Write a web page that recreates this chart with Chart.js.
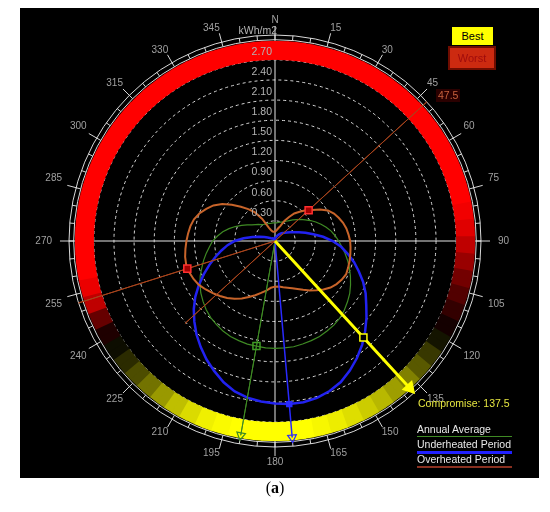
<!DOCTYPE html>
<html>
<head>
<meta charset="utf-8">
<title>Optimum orientation</title>
<script src="https://cdn.jsdelivr.net/npm/chart.js@4.4.1/dist/chart.umd.min.js"></script>
<style>
  body { margin: 0; background: #fff; }
  #wrap { position: relative; width: 550px; height: 512px; overflow: hidden; font-family: "Liberation Sans", Arial, sans-serif; }
  #panel { position: absolute; left: 20px; top: 8px; width: 519px; height: 470px; background: #000; }
  #chart { position: absolute; left: 0; top: 0; }
  .tag { position: absolute; font-size: 10.5px; line-height: 13px; white-space: nowrap; }
  .box { position: absolute; font-size: 11px; text-align: center; box-sizing: border-box; }
  #best { left: 452px; top: 27px; width: 41px; height: 18px; line-height: 18px; background: #ffff00; color: #000; }
  #worst { left: 448px; top: 46px; width: 48px; height: 24px; line-height: 20px; background: #cc2a10; color: #a00c0c; border: 2px solid #6e0c00; }
  #worstTag { left: 436px; top: 89px; color: #c8603c; background: #2a0000; padding: 0 2px; }
  #compromise { left: 418px; top: 397px; color: #e6e640; }
  .leg { left: 417px; width: 95px; color: #e8e8e8; }
  #cap { position: absolute; left: 0; width: 550px; top: 479px; text-align: center; font: 16px "Liberation Serif", "Times New Roman", serif; }
</style>
</head>
<body>
<div id="wrap">
  <div id="panel"></div>
  <canvas id="chart" width="550" height="512"></canvas>
  <div id="best" class="box">Best</div>
  <div id="worst" class="box">Worst</div>
  <div id="worstTag" class="tag"></div>
  <div id="compromise" class="tag"></div>
  <div id="legend"></div>
  <div id="cap">(<b>a</b>)</div>
</div>
<script>
// bearings every 2.5 degrees, clockwise from north
const angles = Array.from({ length: 144 }, (_, i) => i * 2.5);
const ringTicks = [0, 0.3, 0.6, 0.9, 1.2, 1.5, 1.8, 2.1, 2.4, 2.7, 3.0, 3.07];
const unitLabel = 'kWh/m2';
const seriesNames = ['Annual Average', 'Underheated Period', 'Overheated Period'];
const compromiseAngle = 137.5;
const worstAngle = 47.5;

// incident radiation, read every 5 degrees starting at north
const overheated = [
  0.14, 0.15, 0.17, 0.20, 0.24, 0.33, 0.41, 0.50, 0.57, 0.65,
  0.72, 0.82, 0.91, 0.97, 1.01, 1.05, 1.08, 1.10, 1.12, 1.13,
  1.14, 1.15, 1.16, 1.17, 1.15, 1.12, 1.08, 1.02, 0.96, 0.90,
  0.84, 0.79, 0.75, 0.72, 0.70, 0.68, 0.68, 0.70, 0.75, 0.80,
  0.86, 0.92, 0.99, 1.05, 1.11, 1.16, 1.21, 1.26, 1.31, 1.34,
  1.36, 1.37, 1.36, 1.34, 1.32, 1.30, 1.28, 1.25, 1.20, 1.13,
  1.06, 0.96, 0.84, 0.72, 0.62, 0.52, 0.38, 0.22, 0.17, 0.15,
  0.14, 0.14
];
const underheated = [
  0.03, 0.04, 0.05, 0.06, 0.07, 0.09, 0.11, 0.13, 0.15, 0.17,
  0.19, 0.22, 0.26, 0.31, 0.38, 0.47, 0.58, 0.72, 0.86, 0.99,
  1.10, 1.22, 1.33, 1.45, 1.56, 1.66, 1.78, 1.90, 2.02, 2.13,
  2.23, 2.32, 2.38, 2.42, 2.44, 2.44, 2.42, 2.40, 2.37, 2.32,
  2.24, 2.14, 2.04, 1.93, 1.82, 1.70, 1.58, 1.45, 1.31, 1.17,
  1.04, 0.92, 0.81, 0.71, 0.60, 0.47, 0.34, 0.24, 0.17, 0.12,
  0.09, 0.07, 0.06, 0.05, 0.05, 0.04, 0.04, 0.04, 0.03, 0.03,
  0.03, 0.03
];
const annualAverage = [
  0.27, 0.27, 0.28, 0.29, 0.30, 0.32, 0.34, 0.37, 0.41, 0.45,
  0.50, 0.55, 0.61, 0.67, 0.73, 0.79, 0.85, 0.90, 0.95, 1.00,
  1.06, 1.12, 1.18, 1.24, 1.30, 1.36, 1.41, 1.46, 1.50, 1.53,
  1.55, 1.57, 1.58, 1.59, 1.60, 1.60, 1.60, 1.60, 1.59, 1.59,
  1.58, 1.57, 1.55, 1.52, 1.49, 1.45, 1.40, 1.35, 1.29, 1.23,
  1.16, 1.10, 1.04, 0.98, 0.93, 0.86, 0.79, 0.71, 0.63, 0.55,
  0.48, 0.42, 0.38, 0.35, 0.32, 0.30, 0.29, 0.28, 0.28, 0.27,
  0.27, 0.27
];
// outer band shading every 5 degrees: 1 = worst (red), -1 = best (yellow)
const bandRating = [
  1, 1, 1, 1, 1, 1, 1, 1, 1, 1,
  1, 1, 1, 1, 1, 1, 0.95, 0.88, 0.75, 0.6,
  0.45, 0.32, 0.2, 0.08, -0.08, -0.22, -0.35, -0.5, -0.62, -0.72,
  -0.8, -0.87, -0.93, -0.97, -1, -1, -1, -1, -1, -0.98,
  -0.94, -0.86, -0.75, -0.6, -0.45, -0.3, -0.17, -0.05, 0.12, 0.4,
  0.75, 0.92, 1, 1, 1, 1, 1, 1, 1, 1,
  1, 1, 1, 1, 1, 1, 1, 1, 1, 1,
  1, 1
];

// direction lines: bearing, length behind the centre, length ahead
const dirAngles = [compromiseAngle, worstAngle, 252.5, 175, 190];
const dirTail = [0, 1.82, 0, 0, 0];
const dirHead = [2.97, 3.07, 3.07, 2.94, 2.94];
const markerAngles = [worstAngle, 252.5, compromiseAngle, 190, 175];
const markerValues = [0.68, 1.37, 1.95, 1.59, 2.44];

const dirStyle = [
  { color: '#ffff00', width: 3, arrow: 7, fill: '#ffff00' },
  { color: '#a8441c', width: 1, arrow: 0, fill: 'transparent' },
  { color: '#a8441c', width: 1, arrow: 0, fill: 'transparent' },
  { color: '#2a2aff', width: 1.5, arrow: 5, fill: 'transparent' },
  { color: '#3f8a24', width: 1, arrow: 5, fill: 'transparent' }
];
const markerStroke = ['#ff3030', '#ff3030', '#ffff00', '#3f9a24', '#2a2aff'];
const markerFill = ['#a00000', '#a00000', '#000000', 'transparent', '#2a2aff'];
const markerSize = [5, 5, 5, 5, 3.5];
const FONT = '"Liberation Sans", Arial, sans-serif';

const every5 = arr => arr.flatMap(v => [v, null]);

function bandColor(v) {
  const c = Math.round(255 * Math.abs(v));
  return v >= 0 ? `rgb(${c},0,0)` : `rgb(${c},${c},0)`;
}

function curve(label, values, color, width) {
  return {
    label, data: every5(values), borderColor: color, borderWidth: width,
    spanGaps: true, fill: false, pointRadius: 0, order: 5
  };
}

function directionSets() {
  return dirAngles.map((a, k) => {
    const head = a / 2.5;
    const tail = (head + 72) % 144;
    const data = angles.map(() => null);
    data[head] = dirHead[k];
    data[tail] = dirTail[k];
    const st = dirStyle[k];
    return {
      label: 'dir' + k, data, borderColor: st.color, borderWidth: st.width,
      spanGaps: true, fill: false, order: 3,
      pointStyle: 'triangle', rotation: a,
      pointRadius: c => (c.dataIndex === head ? st.arrow : 0),
      pointBackgroundColor: st.fill, pointBorderColor: st.color, pointBorderWidth: 1.2
    };
  });
}

function markerSet() {
  const data = angles.map(() => null);
  markerAngles.forEach((a, k) => { data[a / 2.5] = markerValues[k]; });
  const idx = c => markerAngles.indexOf(angles[c.dataIndex]);
  return {
    label: 'markers', data, showLine: false, fill: false, order: 1,
    pointStyle: 'rect', pointBorderWidth: 1.5,
    pointRadius: c => markerSize[idx(c)] || 0,
    pointBorderColor: c => markerStroke[idx(c)] || 'transparent',
    pointBackgroundColor: c => markerFill[idx(c)] || 'transparent'
  };
}

// short radial strokes along a ring, used for the scale ticks and the shaded band
function radialSet(label, value, size, step, width, color, order) {
  return {
    label, data: angles.map((a, i) => (i % step ? null : value)),
    showLine: false, fill: false, order,
    pointStyle: 'line', pointRadius: size, pointBorderWidth: width, pointBorderColor: color,
    rotation: c => angles[c.dataIndex] - 90
  };
}

const ringLabels = {
  id: 'ringLabels',
  afterDatasetsDraw(chart) {
    const s = chart.scales.r;
    const ctx = chart.ctx;
    ctx.save();
    ctx.font = '10.5px ' + FONT;
    ctx.fillStyle = '#b4b4b4';
    ctx.textAlign = 'right';
    ctx.textBaseline = 'middle';
    ringTicks.forEach(v => {
      if (v > 0 && v < 2.8) {
        ctx.fillText(v.toFixed(2), s.xCenter - 3, s.yCenter - s.getDistanceFromCenterForValue(v) - 8);
      }
    });
    ctx.fillText(unitLabel, s.xCenter + 2, s.yCenter - s.getDistanceFromCenterForValue(3.07) - 4);
    ctx.restore();
  }
};

function renderLegend() {
  const lines = ['1px solid #3f8a24', '3px solid #2020ff', '2px solid #8a3020'];
  const box = document.getElementById('legend');
  seriesNames.forEach((name, i) => {
    const div = document.createElement('div');
    div.className = 'tag leg';
    div.style.top = (423 + i * 15) + 'px';
    div.style.borderBottom = lines[i];
    div.textContent = name;
    box.appendChild(div);
  });
  document.getElementById('compromise').textContent = 'Compromise: ' + compromiseAngle;
  document.getElementById('worstTag').textContent = String(worstAngle);
}

function renderChart() {
  const ctx = document.getElementById('chart').getContext('2d');
  new Chart(ctx, {
    type: 'radar',
    data: {
      labels: angles,
      datasets: [
        ...directionSets(),
        markerSet(),
        curve(seriesNames[2], overheated, '#c8642a', 2),
        curve(seriesNames[1], underheated, '#2222f0', 2.5),
        curve(seriesNames[0], annualAverage, '#3f8a24', 1.2),
        radialSet('ticks', 3.035, 2.5, 2, 1, '#d8d8d8', 8),
        radialSet('ticks', 3.13, 5, 6, 1, '#d8d8d8', 8),
        {
          ...radialSet('rating', 2.84, 9.5, 1, 9.5, '#f00', 9),
          pointBorderColor: c => bandColor(bandRating[Math.floor(c.dataIndex / 2)])
        }
      ]
    },
    options: {
      responsive: false,
      animation: false,
      events: [],
      layout: { padding: { left: 7, right: 7, top: 14, bottom: 44 } },
      plugins: { legend: { display: false }, tooltip: { enabled: false } },
      scales: {
        r: {
          min: 0,
          max: 3.07,
          afterBuildTicks: s => { s.ticks = ringTicks.map(v => ({ value: v })); },
          ticks: { display: false },
          grid: { circular: true, color: '#d8d8d8', lineWidth: 1 },
          border: { dash: c => (c.tick && c.tick.value < 2.8 ? [3, 3] : []) },
          angleLines: { color: '#e6e6e6', lineWidth: c => (c.index % 36 === 0 ? 1 : 0) },
          pointLabels: {
            color: '#a0a0a0',
            font: { size: 10, family: FONT },
            padding: c => {
              const t = c.index * 2.5 * Math.PI / 180;
              const s = Math.sin(t), co = Math.cos(t);
              return 9 * co * co + 17 * s * s - 8 * Math.abs(s * co);
            },
            callback: (label, i) => (i % 6 ? '' : (i === 0 ? 'N' : String(label)))
          }
        }
      }
    },
    plugins: [ringLabels]
  });
}

renderLegend();
renderChart();
</script>
</body>
</html>
